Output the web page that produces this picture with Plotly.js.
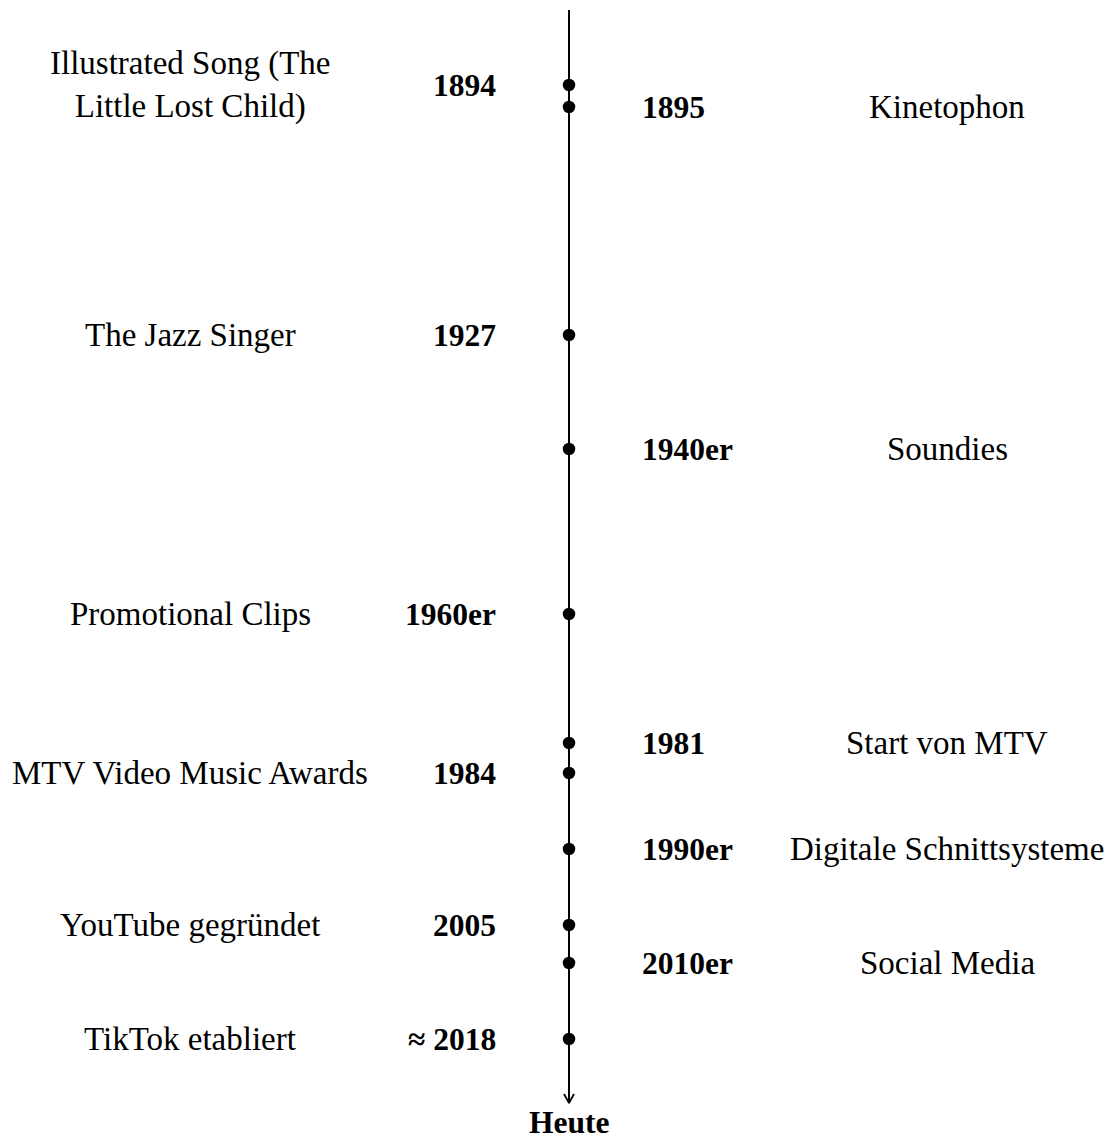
<!DOCTYPE html>
<html>
<head>
<meta charset="utf-8">
<script src="https://cdn.plot.ly/plotly-3.0.1.min.js"></script>
<style>html,body{margin:0;padding:0;background:#fff;}#chart{width:1112px;height:1142px;}</style>
</head>
<body>
<div id="chart"></div>
<script>
// Left-side events
const leftYears  = ['1894', '1927', '1960er', '1984', '2005', '≈ 2018'];
const leftLabels = ['Illustrated Song (The<br>Little Lost Child)', 'The Jazz Singer', 'Promotional Clips', 'MTV Video Music Awards', 'YouTube gegründet', 'TikTok etabliert'];
const leftPos    = [85, 335, 614, 773, 925, 1039];   // timeline position

// Right-side events
const rightYears  = ['1895', '1940er', '1981', '1990er', '2010er'];
const rightLabels = ['Kinetophon', 'Soundies', 'Start von MTV', 'Digitale Schnittsysteme', 'Social Media'];
const rightPos    = [107, 449, 743, 849, 963];

const endLabel = 'Heute';

const FONT = 'Liberation Serif, Times New Roman, serif';
const FS_TEXT = 33;
const FS_YEAR = 31.5;
const AXIS_X = 569;

const allPos = leftPos.concat(rightPos);

const traces = [
  {
    x: [AXIS_X, AXIS_X], y: [10, 1102],
    mode: 'lines', line: {color: '#000', width: 2}, hoverinfo: 'skip', showlegend: false
  },
  {
    x: [AXIS_X - 5, AXIS_X, AXIS_X + 5], y: [1094, 1103, 1094],
    mode: 'lines', line: {color: '#000', width: 1.8}, hoverinfo: 'skip', showlegend: false
  },
  {
    x: allPos.map(() => AXIS_X), y: allPos,
    mode: 'markers', marker: {color: '#000', size: 12.5}, hoverinfo: 'skip', showlegend: false
  }
];

const annotations = [];
leftPos.forEach((p, i) => {
  annotations.push({x: 498, y: p, xref: 'x', yref: 'y', text: '<b>' + leftYears[i] + '</b>',
    showarrow: false, xanchor: 'right', yanchor: 'middle', font: {family: FONT, size: FS_YEAR, color: '#000'}});
  annotations.push({x: 190, y: p, xref: 'x', yref: 'y', text: leftLabels[i], align: 'center',
    showarrow: false, xanchor: 'center', yanchor: 'middle', font: {family: FONT, size: FS_TEXT, color: '#000'}});
});
rightPos.forEach((p, i) => {
  annotations.push({x: 640, y: p, xref: 'x', yref: 'y', text: '<b>' + rightYears[i] + '</b>',
    showarrow: false, xanchor: 'left', yanchor: 'middle', font: {family: FONT, size: FS_YEAR, color: '#000'}});
  annotations.push({x: 947, y: p, xref: 'x', yref: 'y', text: rightLabels[i], align: 'center',
    showarrow: false, xanchor: 'center', yanchor: 'middle', font: {family: FONT, size: FS_TEXT, color: '#000'}});
});
annotations.push({x: AXIS_X, y: 1142, xref: 'x', yref: 'y', text: '<b>' + endLabel + '</b>',
  showarrow: false, xanchor: 'center', yanchor: 'bottom', font: {family: FONT, size: FS_YEAR, color: '#000'}});

const layout = {
  width: 1112, height: 1142,
  margin: {l: 0, r: 0, t: 0, b: 0},
  paper_bgcolor: '#fff', plot_bgcolor: '#fff',
  xaxis: {range: [0, 1112], visible: false, fixedrange: true},
  yaxis: {range: [1142, 0], visible: false, fixedrange: true},
  annotations: annotations,
  showlegend: false
};

Plotly.newPlot('chart', traces, layout, {staticPlot: true, displayModeBar: false});
</script>
</body>
</html>
